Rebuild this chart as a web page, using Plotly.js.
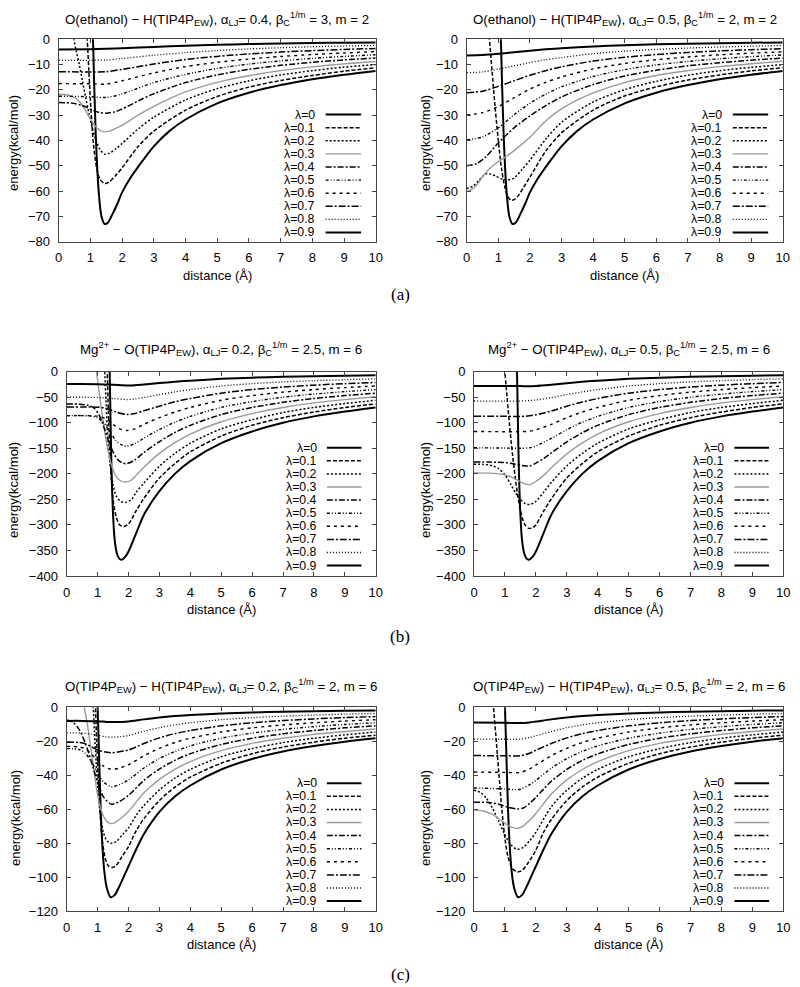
<!DOCTYPE html>
<html><head><meta charset="utf-8">
<script src="https://cdn.plot.ly/plotly-3.0.1.min.js"></script>
<style>html,body{margin:0;padding:0;background:#fff}#chart{width:800px;height:987px}</style>
</head><body><div id="chart"></div>
<script>
// ---------- DATA ----------
const lambdaLabels = ['λ=0','λ=0.1','λ=0.2','λ=0.3','λ=0.4','λ=0.5','λ=0.6','λ=0.7','λ=0.8','λ=0.9'];
const panelTitles = [
  'O(ethanol) − H(TIP4P<sub>EW</sub>), α<sub>LJ</sub>= 0.4, β<sub>C</sub><sup>1/m</sup> = 3, m = 2',
  'O(ethanol) − H(TIP4P<sub>EW</sub>), α<sub>LJ</sub>= 0.5, β<sub>C</sub><sup>1/m</sup> = 2, m = 2',
  'Mg<sup>2+</sup> − O(TIP4P<sub>EW</sub>), α<sub>LJ</sub>= 0.2, β<sub>C</sub><sup>1/m</sup> = 2.5, m = 6',
  'Mg<sup>2+</sup> − O(TIP4P<sub>EW</sub>), α<sub>LJ</sub>= 0.5, β<sub>C</sub><sup>1/m</sup> = 2.5, m = 6',
  'O(TIP4P<sub>EW</sub>) − H(TIP4P<sub>EW</sub>), α<sub>LJ</sub>= 0.2, β<sub>C</sub><sup>1/m</sup> = 2, m = 6',
  'O(TIP4P<sub>EW</sub>) − H(TIP4P<sub>EW</sub>), α<sub>LJ</sub>= 0.5, β<sub>C</sub><sup>1/m</sup> = 2, m = 6'
];
const captions = ['(a)','(b)','(c)'];
const xAxisTitle = 'distance (Å)';
const yAxisTitle = 'energy(kcal/mol)';
const yMins = [-80,-80,-400,-400,-120,-120];
const yDticks = [10,10,50,50,20,20];

// each curve: flat list x0,y0,x1,y1,...  (order λ=0 ... λ=0.9)
const ethanolLam0 = [1.04,8, 1.08,0, 1.12,-18, 1.17,-38, 1.22,-52, 1.28,-63, 1.35,-70, 1.45,-73, 1.55,-72.5, 1.7,-69, 1.85,-65, 2,-60.5, 2.25,-55, 2.5,-50.5, 3,-42.3, 3.5,-36.2, 4,-31.7, 5,-25.3, 6,-21.1, 7,-18.1, 8,-15.8, 9,-14, 10,-12.5];
const a1 = [
  ethanolLam0,
  [0.86,8, 0.9,0, 0.95,-12, 1.0,-24, 1.05,-34, 1.1,-42, 1.2,-51, 1.3,-55.3, 1.45,-57, 1.6,-56.3, 1.8,-53.8, 2,-50.8, 2.5,-42.5, 3,-36.3, 4,-28, 5,-22.6, 6,-18.9, 7,-16.3, 8,-14.3, 9,-12.6, 10,-11.25],
  [0.44,5, 0.48,0, 0.56,-5, 0.65,-10, 0.75,-16.5, 0.85,-23, 0.95,-29, 1.05,-34.5, 1.15,-39, 1.3,-43.5, 1.45,-45.4, 1.6,-45, 1.8,-43.3, 2,-41.2, 2.5,-35.5, 3,-30.8, 4,-24, 5,-19.5, 6,-16.4, 7,-14.1, 8,-12.4, 9,-11, 10,-10],
  [0,-21.7, 0.3,-22, 0.5,-23, 0.7,-25.3, 0.85,-28.3, 1,-31.5, 1.15,-34.3, 1.3,-36, 1.45,-36.6, 1.6,-36.3, 1.8,-35.2, 2,-34, 2.5,-30, 3,-26.5, 4,-20.8, 5,-17, 6,-14.4, 7,-12.4, 8,-10.9, 9,-9.7, 10,-8.75],
  [0,-25, 0.4,-25.2, 0.7,-26, 0.9,-27, 1.1,-28.2, 1.3,-29, 1.5,-29.2, 1.75,-28.7, 2,-27.6, 2.5,-24.4, 3,-21.5, 4,-17.1, 5,-14.1, 6,-11.9, 7,-10.3, 8,-9.1, 9,-8.15, 10,-7.4],
  [0,-22.5, 1,-22.7, 1.5,-23, 2,-21.6, 3,-17.1, 4,-13.9, 5,-11.5, 6,-9.8, 7,-8.55, 8,-7.55, 9,-6.76, 10,-6.12],
  [0,-17.5, 1,-17.6, 1.5,-17.7, 2,-16.4, 3,-13.3, 4,-10.8, 5,-9.1, 6,-7.8, 7,-6.8, 8,-6.0, 9,-5.4, 10,-4.9],
  [0,-12.8, 1,-12.9, 1.5,-12.8, 2,-11.9, 3,-9.8, 4,-8, 5,-6.75, 6,-5.8, 7,-5.05, 8,-4.47, 9,-4.0, 10,-3.65],
  [0,-8.3, 1,-8.3, 1.5,-8.2, 2,-7.6, 3,-6.3, 4,-5.25, 5,-4.45, 6,-3.8, 7,-3.33, 8,-2.96, 9,-2.66, 10,-2.42],
  [0,-4, 1,-3.9, 1.5,-3.75, 2,-3.5, 3,-3.0, 4,-2.55, 5,-2.18, 6,-1.88, 7,-1.65, 8,-1.47, 9,-1.33, 10,-1.22]
];
const a2 = [
  ethanolLam0,
  [0.68,6, 0.72,0, 0.8,-12, 0.9,-27, 1.0,-40, 1.1,-51, 1.2,-58, 1.3,-62.2, 1.4,-63.6, 1.5,-63.4, 1.65,-61.5, 1.8,-58.5, 2,-54.5, 2.5,-44.2, 3,-37, 4,-28, 5,-22.4, 6,-18.8, 7,-16.1, 8,-14.1, 9,-12.5, 10,-11.25],
  [0,-59, 0.2,-58, 0.4,-55.6, 0.6,-53.2, 0.75,-53.2, 0.9,-54, 1.1,-55.1, 1.3,-55.6, 1.5,-54.8, 1.75,-51.5, 2,-47.8, 2.5,-39.5, 3,-32.8, 4,-24.8, 5,-19.9, 6,-16.6, 7,-14.2, 8,-12.4, 9,-11.1, 10,-10],
  [0,-60.2, 0.2,-59, 0.4,-56.2, 0.6,-52.7, 0.8,-50.3, 1,-48.3, 1.25,-46.3, 1.5,-44, 2,-38.7, 2.5,-32.3, 3,-27.5, 4,-21.2, 5,-17.1, 6,-14.3, 7,-12.4, 8,-10.8, 9,-9.65, 10,-8.7],
  [0,-50, 0.3,-49.2, 0.6,-46.5, 1,-41, 1.5,-35, 2,-30.3, 2.5,-26.2, 3,-22.8, 4,-17.9, 5,-14.5, 6,-12.2, 7,-10.5, 8,-9.26, 9,-8.25, 10,-7.45],
  [0,-39.8, 0.5,-38.6, 1,-35, 1.5,-29.8, 2,-25.3, 2.5,-21.7, 3,-18.8, 4,-14.7, 5,-12, 6,-10.1, 7,-8.75, 8,-7.7, 9,-6.86, 10,-6.2],
  [0,-29.9, 0.5,-29, 1,-26.6, 1.5,-23.1, 2,-19.7, 2.5,-17, 3,-14.9, 4,-11.7, 5,-9.55, 6,-8.07, 7,-6.97, 8,-6.14, 9,-5.47, 10,-4.95],
  [0,-21.1, 0.5,-20.5, 1,-18.6, 1.5,-16.4, 2,-14.2, 2.5,-12.4, 3,-10.9, 4,-8.6, 5,-7.1, 6,-6.0, 7,-5.2, 8,-4.6, 9,-4.1, 10,-3.7],
  [0,-13.2, 0.5,-12.9, 1,-11.8, 1.5,-10.5, 2,-9.2, 2.5,-8.1, 3,-7.2, 4,-5.7, 5,-4.7, 6,-4.0, 7,-3.46, 8,-3.05, 9,-2.72, 10,-2.46],
  [0,-6.4, 0.5,-6.25, 1,-5.75, 1.5,-5.1, 2,-4.5, 2.5,-3.98, 3,-3.55, 4,-2.82, 5,-2.34, 6,-1.98, 7,-1.72, 8,-1.52, 9,-1.36, 10,-1.23]
];
const mgLam0 = [1.37,30, 1.39,0, 1.42,-100, 1.45,-190, 1.5,-280, 1.55,-328, 1.62,-355, 1.7,-366, 1.78,-368, 1.9,-362, 2,-352, 2.25,-316, 2.5,-280, 3,-234, 3.5,-200, 4,-175, 5,-140, 6,-117, 7,-100, 8,-87.5, 9,-78, 10,-70];
const b1 = [
  mgLam0,
  [1.28,30, 1.31,0, 1.35,-80, 1.4,-160, 1.45,-215, 1.5,-250, 1.6,-284, 1.7,-299, 1.85,-303, 2,-298, 2.25,-272, 2.5,-248, 3,-208, 3.5,-180, 4,-157, 5,-126, 6,-105, 7,-90, 8,-79, 9,-70, 10,-63],
  [1.2,30, 1.23,0, 1.28,-70, 1.33,-130, 1.4,-180, 1.5,-222, 1.6,-243, 1.75,-254, 1.9,-256, 2.1,-250, 2.25,-236, 2.5,-218, 3,-185, 3.5,-160, 4,-140, 5,-112, 6,-94, 7,-80, 8,-70, 9,-62.4, 10,-56],
  [0.95,20, 0.97,0, 1.05,-40, 1.15,-85, 1.25,-125, 1.35,-158, 1.45,-183, 1.6,-205, 1.75,-214, 1.9,-216, 2.1,-212, 2.25,-203, 2.5,-187, 3,-160, 3.5,-139, 4,-122, 5,-98, 6,-82, 7,-70, 8,-61, 9,-54.6, 10,-49],
  [0,-63, 0.4,-63.5, 0.7,-66, 0.9,-72, 1.05,-85, 1.2,-108, 1.35,-135, 1.5,-157, 1.65,-172, 1.8,-178.5, 1.95,-180, 2.2,-173, 2.5,-158, 3,-137, 3.5,-119, 4,-105, 5,-84, 6,-70, 7,-60, 8,-52.5, 9,-46.8, 10,-42],
  [0,-86, 0.5,-86, 0.8,-87, 1.0,-90, 1.2,-100, 1.4,-118, 1.6,-135, 1.8,-144, 1.95,-146, 2.2,-141, 2.5,-130, 3,-113, 3.5,-99, 4,-87.5, 5,-70, 6,-58.5, 7,-50, 8,-43.8, 9,-39, 10,-35],
  [0,-86, 0.5,-86, 1,-87, 1.3,-93, 1.5,-103, 1.7,-111.5, 1.95,-115, 2.2,-112, 2.5,-103, 3,-90, 3.5,-79, 4,-70, 5,-56, 6,-46.8, 7,-40, 8,-35, 9,-31.2, 10,-28],
  [0,-69, 0.5,-69, 1,-69.5, 1.3,-72, 1.6,-79, 1.95,-84, 2.2,-82, 2.5,-76.5, 3,-67.5, 3.5,-59, 4,-52.5, 5,-42, 6,-35, 7,-30, 8,-26.3, 9,-23.4, 10,-21],
  [0,-50, 0.5,-50, 1,-50.5, 1.5,-52.5, 1.95,-54.5, 2.2,-53.5, 2.5,-50.5, 3,-44.8, 3.5,-39.5, 4,-35, 5,-28, 6,-23.4, 7,-20, 8,-17.5, 9,-15.6, 10,-14],
  [0,-24.1, 0.5,-24.1, 1,-24.4, 1.5,-25.5, 1.95,-26.8, 2.2,-26.5, 2.5,-25, 3,-22.3, 3.5,-19.8, 4,-17.5, 5,-14, 6,-11.7, 7,-10, 8,-8.75, 9,-7.8, 10,-7]
];
const b2 = [
  mgLam0,
  [0.97,30, 1.0,0, 1.07,-50, 1.15,-105, 1.25,-165, 1.35,-215, 1.45,-256, 1.55,-284, 1.65,-300, 1.78,-307, 1.9,-305, 2,-300, 2.25,-273, 2.5,-249, 3,-208, 3.5,-180, 4,-157, 5,-126, 6,-105, 7,-90, 8,-79, 9,-70, 10,-63],
  [0,-181, 0.3,-181.5, 0.6,-184, 0.8,-190, 1.0,-202, 1.2,-222, 1.35,-238, 1.5,-250, 1.65,-258, 1.8,-260, 2,-254, 2.25,-236, 2.5,-217, 3,-184.5, 3.5,-160, 4,-140, 5,-112, 6,-94, 7,-80, 8,-70, 9,-62.4, 10,-56],
  [0,-198, 0.5,-198.5, 0.8,-200, 1.0,-202, 1.2,-206, 1.4,-212, 1.6,-218.5, 1.8,-221, 2,-215, 2.25,-203, 2.5,-188, 3,-161, 3.5,-139.5, 4,-122, 5,-98, 6,-82, 7,-70, 8,-61, 9,-54.6, 10,-49],
  [0,-177, 0.5,-177, 1,-178, 1.3,-180.5, 1.6,-184, 1.8,-184.5, 2,-179, 2.25,-170, 2.5,-159, 3,-137.5, 3.5,-119.5, 4,-105, 5,-84, 6,-70, 7,-60, 8,-52.5, 9,-46.8, 10,-42],
  [0,-149, 1,-149.5, 1.5,-150, 1.8,-149, 2,-145.5, 2.5,-130.5, 3,-113.5, 3.5,-99, 4,-87.5, 5,-70, 6,-58.5, 7,-50, 8,-43.8, 9,-39, 10,-35],
  [0,-117, 1,-117.5, 1.5,-117.5, 1.8,-116.5, 2,-114, 2.5,-103, 3,-90, 3.5,-79, 4,-70, 5,-56, 6,-46.8, 7,-40, 8,-35, 9,-31.2, 10,-28],
  [0,-87, 1,-87.2, 1.5,-87.8, 2,-84.5, 2.5,-77, 3,-67.5, 3.5,-59.5, 4,-52.5, 5,-42, 6,-35, 7,-30, 8,-26.3, 9,-23.4, 10,-21],
  [0,-57.4, 1,-57.5, 1.5,-57.5, 2,-55.5, 2.5,-50.8, 3,-44.8, 3.5,-39.6, 4,-35, 5,-28, 6,-23.4, 7,-20, 8,-17.5, 9,-15.6, 10,-14],
  [0,-28, 1,-28, 1.5,-28.2, 1.75,-28.5, 2,-28, 2.5,-25.5, 3,-22.5, 3.5,-19.8, 4,-17.5, 5,-14, 6,-11.7, 7,-10, 8,-8.75, 9,-7.8, 10,-7]
];
const waterLam0 = [0.97,10, 1.0,0, 1.05,-30, 1.1,-60, 1.15,-80, 1.22,-97, 1.3,-106.5, 1.42,-111.7, 1.55,-110.5, 1.7,-105.5, 1.85,-99.5, 2,-93.5, 2.25,-83.5, 2.5,-74.5, 3,-61.5, 3.5,-52.5, 4,-46, 5,-36.6, 6,-30.4, 7,-26, 8,-22.8, 9,-20.2, 10,-18.2];
const c1 = [
  waterLam0,
  [0.9,10, 0.93,0, 0.97,-20, 1.02,-42, 1.08,-62, 1.15,-78, 1.25,-89, 1.35,-93.3, 1.47,-94.3, 1.6,-93, 1.8,-87.5, 2,-82, 2.25,-72.5, 2.5,-65.5, 3,-54.8, 3.5,-47, 4,-41.1, 5,-32.9, 6,-27.3, 7,-23.4, 8,-20.5, 9,-18.2, 10,-16.4],
  [0.82,10, 0.86,0, 0.9,-15, 0.95,-32, 1.0,-46, 1.08,-62, 1.18,-73, 1.3,-78.5, 1.45,-80, 1.6,-79, 1.8,-75, 2,-71, 2.25,-63.5, 2.5,-57.8, 3,-48.6, 3.5,-41.7, 4,-36.5, 5,-29.1, 6,-24.3, 7,-20.8, 8,-18.2, 9,-16.2, 10,-14.56],
  [0.5,10, 0.57,0, 0.65,-8, 0.75,-20, 0.85,-33, 0.95,-46, 1.05,-56, 1.2,-64.5, 1.35,-68, 1.5,-68.3, 1.7,-66, 2,-61.3, 2.5,-50.3, 3,-42.4, 3.5,-36.5, 4,-31.9, 5,-25.5, 6,-21.2, 7,-18.2, 8,-15.9, 9,-14.2, 10,-12.74],
  [0,-7.5, 0.2,-8.7, 0.4,-13, 0.6,-21, 0.8,-32, 1,-44, 1.2,-53, 1.45,-57, 1.7,-55.5, 2,-51.8, 2.5,-43, 3,-36.3, 3.5,-31.2, 4,-27.3, 5,-21.84, 6,-18.2, 7,-15.6, 8,-13.65, 9,-12.1, 10,-10.9],
  [0,-24.3, 0.4,-24.8, 0.6,-27, 0.8,-32, 1,-38.5, 1.2,-44, 1.45,-46.7, 1.7,-45.5, 2,-42.7, 2.5,-35.7, 3,-30.1, 3.5,-26, 4,-22.7, 5,-18.2, 6,-15.2, 7,-13, 8,-11.4, 9,-10.1, 10,-9.1],
  [0,-23, 0.4,-23.3, 0.6,-24.5, 0.8,-27.5, 1,-31.5, 1.2,-34.8, 1.45,-36.5, 1.7,-35.8, 2,-33.8, 2.5,-28.5, 3,-24.1, 3.5,-20.7, 4,-18.2, 5,-14.56, 6,-12.1, 7,-10.4, 8,-9.1, 9,-8.1, 10,-7.28],
  [0,-20.5, 0.4,-20.7, 0.6,-21.5, 0.8,-23.2, 1,-25, 1.2,-26.2, 1.45,-26.7, 1.7,-26.2, 2,-25.1, 2.5,-21.3, 3,-18, 3.5,-15.5, 4,-13.65, 5,-10.92, 6,-9.1, 7,-7.8, 8,-6.83, 9,-6.07, 10,-5.46],
  [0,-15, 0.5,-15.2, 0.8,-15.8, 1,-16.5, 1.25,-17.3, 1.5,-17.6, 1.75,-17.3, 2,-16.6, 2.5,-14.1, 3,-12, 3.5,-10.35, 4,-9.1, 5,-7.28, 6,-6.07, 7,-5.2, 8,-4.55, 9,-4.04, 10,-3.64],
  [0,-8, 0.5,-8, 1,-8.2, 1.3,-8.6, 1.5,-8.7, 1.8,-8.6, 2,-8.3, 2.5,-7.1, 3,-6.0, 3.5,-5.17, 4,-4.54, 5,-3.64, 6,-3.03, 7,-2.6, 8,-2.28, 9,-2.02, 10,-1.82]
];
const c2 = [
  waterLam0,
  [0.6,10, 0.63,0, 0.7,-15, 0.8,-38, 0.9,-60, 1.0,-77, 1.1,-88, 1.25,-95, 1.4,-96.8, 1.55,-96, 1.75,-91.5, 2,-84, 2.25,-73.5, 2.5,-66, 3,-54.8, 3.5,-47, 4,-41.1, 5,-32.9, 6,-27.3, 7,-23.4, 8,-20.5, 9,-18.2, 10,-16.4],
  [0,-48.8, 0.2,-50, 0.4,-53.5, 0.6,-59.5, 0.8,-67, 1,-75, 1.2,-81, 1.4,-83.5, 1.6,-82.3, 1.8,-78.5, 2,-73.5, 2.5,-58.5, 3,-48.8, 3.5,-41.8, 4,-36.5, 5,-29.1, 6,-24.3, 7,-20.8, 8,-18.2, 9,-16.2, 10,-14.56],
  [0,-60.5, 0.3,-61, 0.6,-63, 0.9,-66.8, 1.1,-69.5, 1.35,-71.2, 1.55,-70.3, 1.8,-66.5, 2,-62.5, 2.5,-51, 3,-42.7, 3.5,-36.6, 4,-32, 5,-25.5, 6,-21.2, 7,-18.2, 8,-15.9, 9,-14.2, 10,-12.74],
  [0,-55.8, 0.5,-56, 0.8,-57, 1.1,-58.8, 1.4,-59.8, 1.6,-59.2, 1.8,-56.5, 2,-53, 2.5,-43.5, 3,-36.5, 3.5,-31.3, 4,-27.4, 5,-21.84, 6,-18.2, 7,-15.6, 8,-13.65, 9,-12.1, 10,-10.9],
  [0,-47.5, 1,-48, 1.3,-48.4, 1.5,-48.2, 1.8,-45.5, 2,-43, 2.5,-35.8, 3,-30.2, 3.5,-26, 4,-22.7, 5,-18.2, 6,-15.2, 7,-13, 8,-11.4, 9,-10.1, 10,-9.1],
  [0,-38.1, 1,-38.3, 1.5,-38.3, 1.8,-36.2, 2,-34, 2.5,-28.5, 3,-24.1, 3.5,-20.7, 4,-18.2, 5,-14.56, 6,-12.1, 7,-10.4, 8,-9.1, 9,-8.1, 10,-7.28],
  [0,-28.4, 1,-28.5, 1.5,-28.5, 1.8,-27, 2,-25.3, 2.5,-21.3, 3,-18, 3.5,-15.5, 4,-13.65, 5,-10.92, 6,-9.1, 7,-7.8, 8,-6.83, 9,-6.07, 10,-5.46],
  [0,-18.7, 1,-18.8, 1.5,-18.7, 1.8,-17.8, 2,-16.8, 2.5,-14.2, 3,-12, 3.5,-10.35, 4,-9.1, 5,-7.28, 6,-6.07, 7,-5.2, 8,-4.55, 9,-4.04, 10,-3.64],
  [0,-9, 1,-9.1, 1.5,-9.3, 1.8,-8.9, 2,-8.4, 2.5,-7.1, 3,-6.0, 3.5,-5.17, 4,-4.54, 5,-3.64, 6,-3.03, 7,-2.6, 8,-2.28, 9,-2.02, 10,-1.82]
];
const panelCurves = [a1, a2, b1, b2, c1, c2];

// ---------- STYLE / LAYOUT ----------
const W = 800, H = 987;
const lineStyles = [
  {color:'#000', width:2,   dash:'solid'},
  {color:'#000', width:1.5, dash:'4px,2px'},
  {color:'#000', width:1.5, dash:'2px,2px'},
  {color:'#9a9a9a', width:1.4, dash:'solid'},
  {color:'#000', width:1.5, dash:'6px,2px,2px,2px'},
  {color:'#000', width:1.4, dash:'3px,2px,1px,2px,1px,2px'},
  {color:'#000', width:1.4, dash:'3px,4px'},
  {color:'#000', width:1.5, dash:'7px,2px,2px,2px'},
  {color:'#000', width:1.3, dash:'1px,2px'},
  {color:'#000', width:2,   dash:'solid'}
];
// plot boxes in page pixels [left, right, top, bottom]
const boxes = [
  [58.7, 375.7, 39.3, 241.7], [466.7, 782.7, 39.3, 241.7],
  [66.7, 375.7, 371.7, 576],  [474, 783.3, 371.7, 576],
  [66.7, 375.7, 707.3, 911.3],[474, 783.3, 707.3, 911.3]
];
const titleY = [19, 349, 686];
const xTitleY = [275, 609, 944];
const yTitleY = [143, 490, 818];
const yTitleX = [13, 425];
const captionY = [294, 636, 974];
const FONT = 'Liberation Sans, Arial, Helvetica, sans-serif';
const FS = 13;
const KEY_STEP_PX = 13.1;

const traces = [];
const layout = {
  width: W, height: H, margin: {l:0, r:0, t:0, b:0},
  paper_bgcolor: '#fff', plot_bgcolor: '#fff', showlegend: false,
  font: {family: FONT, size: FS, color: '#000'},
  annotations: [], shapes: []
};
const px = v => v / W, py = v => 1 - v / H;

panelCurves.forEach((curves, p) => {
  const suf = p === 0 ? '' : String(p + 1);
  const [L, R, T, B] = boxes[p];
  const axCommon = {
    showgrid: false, zeroline: false, showline: true, linecolor: '#444', linewidth: 1,
    mirror: 'ticks', ticks: 'inside', ticklen: 4, tickcolor: '#444', tickwidth: 1,
    tickfont: {family: FONT, size: FS, color: '#000'}, fixedrange: true
  };
  layout['xaxis' + suf] = Object.assign({}, axCommon, {
    domain: [px(L), px(R)], range: [0, 10], dtick: 1, tick0: 0,
    anchor: 'y' + suf, ticklabelstandoff: 4
  });
  layout['yaxis' + suf] = Object.assign({}, axCommon, {
    domain: [py(B), py(T)], range: [yMins[p], 0], dtick: yDticks[p], tick0: 0,
    anchor: 'x' + suf, ticklabelstandoff: 5
  });
  curves.forEach((flat, k) => {
    const x = [], y = [];
    for (let i = 0; i < flat.length; i += 2) { x.push(flat[i]); y.push(flat[i + 1]); }
    traces.push({
      type: 'scatter', mode: 'lines', x, y, name: lambdaLabels[k],
      xaxis: 'x' + suf, yaxis: 'y' + suf, hoverinfo: 'skip',
      line: Object.assign({shape: 'spline', smoothing: 0.8}, lineStyles[k])
    });
  });
  // key: text on the left, line sample on the right (gnuplot style)
  const step = KEY_STEP_PX / (B - T);
  lambdaLabels.forEach((lab, k) => {
    const yy = 0.628 - k * step;
    layout.annotations.push({
      xref: 'x' + suf + ' domain', yref: 'y' + suf + ' domain',
      x: 0.812, y: yy, xanchor: 'right', yanchor: 'middle', showarrow: false,
      borderpad: 0,
      text: lab, font: {family: FONT, size: 12.3, color: '#000'}
    });
    layout.shapes.push({
      type: 'line', xref: 'x' + suf + ' domain', yref: 'y' + suf + ' domain',
      x0: 0.842, x1: 0.954, y0: yy, y1: yy,
      line: {color: lineStyles[k].color, width: lineStyles[k].width, dash: lineStyles[k].dash}
    });
  });
  const row = Math.floor(p / 2), col = p % 2;
  const cx = (L + R) / 2;
  layout.annotations.push({
    xref: 'paper', yref: 'paper', x: px(cx), y: py(titleY[row]),
    xanchor: 'center', yanchor: 'middle', showarrow: false,
    text: panelTitles[p], font: {family: FONT, size: 13.3, color: '#000'}
  });
  layout.annotations.push({
    xref: 'paper', yref: 'paper', x: px(cx), y: py(xTitleY[row]),
    xanchor: 'center', yanchor: 'middle', showarrow: false,
    text: xAxisTitle, font: {family: FONT, size: FS, color: '#000'}
  });
  layout.annotations.push({
    xref: 'paper', yref: 'paper', x: px(yTitleX[col] + (row === 2 && col === 0 ? 2 : 0)), y: py(yTitleY[row]),
    xanchor: 'center', yanchor: 'middle', showarrow: false, textangle: -90,
    text: yAxisTitle, font: {family: FONT, size: FS, color: '#000'}
  });
});
captions.forEach((c, r) => {
  layout.annotations.push({
    xref: 'paper', yref: 'paper', x: 0.5, y: py(captionY[r]),
    xanchor: 'center', yanchor: 'middle', showarrow: false, borderpad: 0,
    text: c, font: {family: 'Liberation Serif, Times New Roman, serif', size: 17, color: '#000'}
  });
});

Plotly.newPlot('chart', traces, layout, {staticPlot: true, displayModeBar: false});
</script>
</body></html>
